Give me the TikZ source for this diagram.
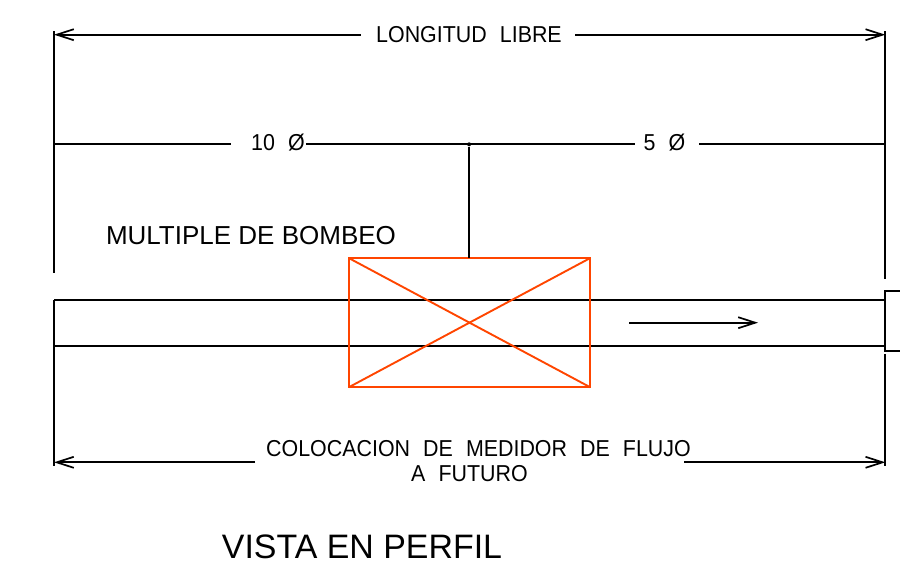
\documentclass[tikz,border=0pt]{standalone}
\usepackage{fontspec}
\usepackage{xcolor}
\usetikzlibrary{arrows.meta}
\setmainfont{Liberation Sans}
\newfontfamily\cadfont[WordSpace=2.2,FakeStretch=0.93]{Liberation Sans}
\definecolor{meter}{RGB}{255,69,0}
\tikzset{
    dimline/.style={draw=black, line width=0.038cm},
    dimarrow/.style={dimline, -{Straight Barb[length=0.34cm,width=0.22cm,line width=0.034cm]}},
    pipeline/.style={draw=black, line width=0.042cm},
    meterbox/.style={rectangle, draw=meter, line width=0.038cm, inner sep=0pt, outer sep=0pt},
    meterline/.style={draw=meter, line width=0.038cm},
    junction/.style={circle, fill=black, inner sep=0pt, minimum size=0.08cm},
    cadtext/.style={inner sep=0pt, font=\cadfont\fontsize{13.1}{15}\selectfont},
    title/.style={inner sep=0pt, font=\fontsize{14.8}{17}\selectfont},
    viewtitle/.style={inner sep=0pt, font=\fontsize{19.3}{23}\selectfont}
}
\begin{document}
\begin{tikzpicture}[x=0.02cm, y=-0.02cm]
    \useasboundingbox (0,0) rectangle (900,579);
    % Labels
    \node[cadtext] (longitud) at (469,35) {LONGITUD LIBRE};
    \node[cadtext] (diez) at (278,142.5) {10 Ø};
    \node[cadtext] (cinco) at (664.5,142.5) {5 Ø};
    \node[title] (multiple) at (251,235.5) {MULTIPLE DE BOMBEO};
    \node[cadtext] (colocacion) at (478.5,449) {COLOCACION DE MEDIDOR DE FLUJO};
    \node[cadtext] (futuro) at (469.5,474) {A FUTURO};
    \node[viewtitle] (vista) at (362,546.5) {VISTA EN PERFIL};
    % Top dimension
    \coordinate (top_l) at (54,31);
    \coordinate (top_l_end) at (54,273);
    \coordinate (top_r) at (885.3,31);
    \coordinate (top_r_end) at (885.3,279);
    \coordinate (long_l) at (54,34.7);
    \coordinate (long_r) at (885.3,34.7);
    \coordinate (long_a) at (360.5,34.7);
    \coordinate (long_b) at (575,34.7);
    \draw[dimline] (top_l) -- (top_l_end);
    \draw[dimline] (top_r) -- (top_r_end);
    \draw[dimarrow] (long_a) -- (long_l);
    \draw[dimarrow] (long_b) -- (long_r);
    % Meter position
    \coordinate (pos_l) at (54,144.3);
    \coordinate (pos_r) at (885.3,144.3);
    \coordinate (pos_a) at (231,144.3);
    \coordinate (pos_b) at (306,144.3);
    \coordinate (pos_c) at (635,144.3);
    \coordinate (pos_d) at (699,144.3);
    \draw[dimline] (pos_l) -- (pos_a);
    \draw[dimline] (pos_b) -- (pos_c);
    \draw[dimline] (pos_d) -- (pos_r);
    \node[junction] (pos_m) at (469.1,144.3) {};
    % Pipe
    \coordinate (pipe_tl) at (54,299.7);
    \coordinate (pipe_tr) at (885.3,299.7);
    \coordinate (pipe_bl) at (54,346);
    \coordinate (pipe_br) at (885.3,346);
    \draw[pipeline] (pipe_tl) -- (pipe_tr);
    \draw[pipeline] (pipe_bl) -- (pipe_br);
    \coordinate (flange_a) at (900,291);
    \coordinate (flange_b) at (885.3,291);
    \coordinate (flange_c) at (885.3,351);
    \coordinate (flange_d) at (900,351);
    \draw[dimline] (flange_a) -- (flange_b) -- (flange_c) -- (flange_d);
    \coordinate (flow_a) at (629,322.7);
    \coordinate (flow_b) at (758,322.7);
    \draw[dimarrow] (flow_a) -- (flow_b);
    % Flow meter
    \node[meterbox, minimum width=4.832cm, minimum height=2.586cm] (meter) at (469.5,322.65) {};
    \draw[meterline] (meter.north west) -- (meter.south east);
    \draw[meterline] (meter.north east) -- (meter.south west);
    \draw[dimline] (pos_m) -- (pos_m |- meter.north);
    % Bottom dimension
    \coordinate (bot_l) at (54,299.7);
    \coordinate (bot_l_end) at (54,466);
    \coordinate (bot_r) at (885.3,354);
    \coordinate (bot_r_end) at (885.3,466);
    \coordinate (colo_l) at (54,462.3);
    \coordinate (colo_r) at (885.3,462.3);
    \coordinate (colo_a) at (255,462.3);
    \coordinate (colo_b) at (684,462.3);
    \draw[dimline] (bot_l) -- (bot_l_end);
    \draw[dimline] (bot_r) -- (bot_r_end);
    \draw[dimarrow] (colo_a) -- (colo_l);
    \draw[dimarrow] (colo_b) -- (colo_r);
\end{tikzpicture}
\end{document}
